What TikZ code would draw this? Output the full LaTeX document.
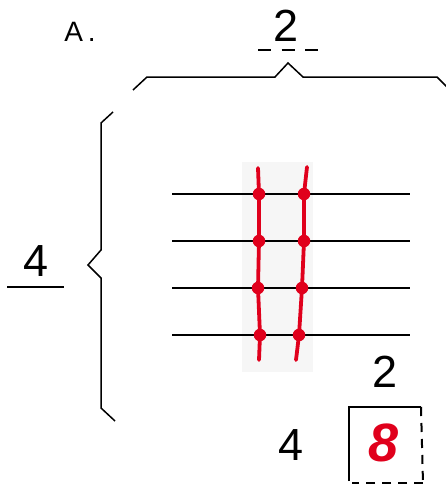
\documentclass[tikz,border=0pt]{standalone}
\usepackage{fontspec}
\setmainfont{Liberation Sans}
\usetikzlibrary{positioning}
\definecolor{knred}{HTML}{E0001C}
\definecolor{knpaper}{HTML}{F6F6F6}

\begin{document}
\begin{tikzpicture}[
  x=1pt, y=-1pt,
  digit/.style={inner sep=0pt, font=\fontsize{45}{45}\selectfont},
  brace/.style={line width=1.5pt, line join=miter},
  row/.style={line width=1.2pt},
  strand/.style={knred, line width=3.8pt, line cap=round},
  knot/.style={circle, fill=knred, inner sep=0pt, minimum size=12.5pt},
]
\useasboundingbox (0,0) rectangle (445,495);

% labels
\node[inner sep=0pt, font=\fontsize{28}{28}\selectfont] (title) at (80,32) {A\,.};
\node[digit] (cols) at (286,26) {2};
\draw[row, line width=1.5pt, dash pattern=on 13pt off 10.5pt] (258,50) coordinate (dashl) -- (318,50) coordinate (dashr);
\node[digit] (rows) at (36,261) {4};
\draw[row, line width=1.5pt] (7,287) coordinate (ulinel) -- (64,287) coordinate (uliner);

% braces
\draw[brace] (133,90) -- (147,77) -- (275,77) -- (288,63) -- (303,77) -- (437,77) -- (447,87);
\draw[brace] (113,112) -- (101,123) -- (101,250) -- (88,265) -- (101,278) -- (101,408) -- (115,421);

% paper strip and grid rows
\fill[knpaper] (242,162) rectangle (313,372);
\foreach \y [count=\i] in {194,241,288,335}
  \draw[row] (172,\y) coordinate (rowl\i) -- (410,\y) coordinate (rowr\i);

% red strands with knots
\coordinate (ltop) at (258,168);
\coordinate (lbot) at (259,360);
\coordinate (rtop) at (307,167);
\coordinate (rbot) at (296,360);
\foreach \y/\l/\r [count=\i] in {194/259/304, 241/259/304, 288/258/302, 335/260/299} {
  \node[knot] (kl\i) at (\l,\y) {};
  \node[knot] (kr\i) at (\r,\y) {};
}
\draw[strand] (ltop) -- (kl1.center) -- (kl2.center) -- (kl3.center) -- (kl4.center) -- (lbot);
\draw[strand] (rtop) -- (kr1.center) -- (kr2.center) -- (kr3.center) -- (kr4.center) -- (rbot);

% answer box
\node[digit] (boxcols) at (385,372) {2};
\node[digit] (boxrows) at (291,445) {4};
\draw[brace, line width=1.8pt] (349,481) coordinate (boxbl) -- (349,407) coordinate (boxtl) -- (421,407) coordinate (boxtr);
\draw[line width=2pt, dash pattern=on 9pt off 7pt] (boxtr) -- (423,483) coordinate (boxbr);
\draw[line width=2pt, dash pattern=on 9pt off 7pt] (boxbr) -- (352,483);
\node[digit, knred, font=\fontsize{54}{54}\selectfont\bfseries\itshape] (total) at (384,443) {8};
\end{tikzpicture}
\end{document}
